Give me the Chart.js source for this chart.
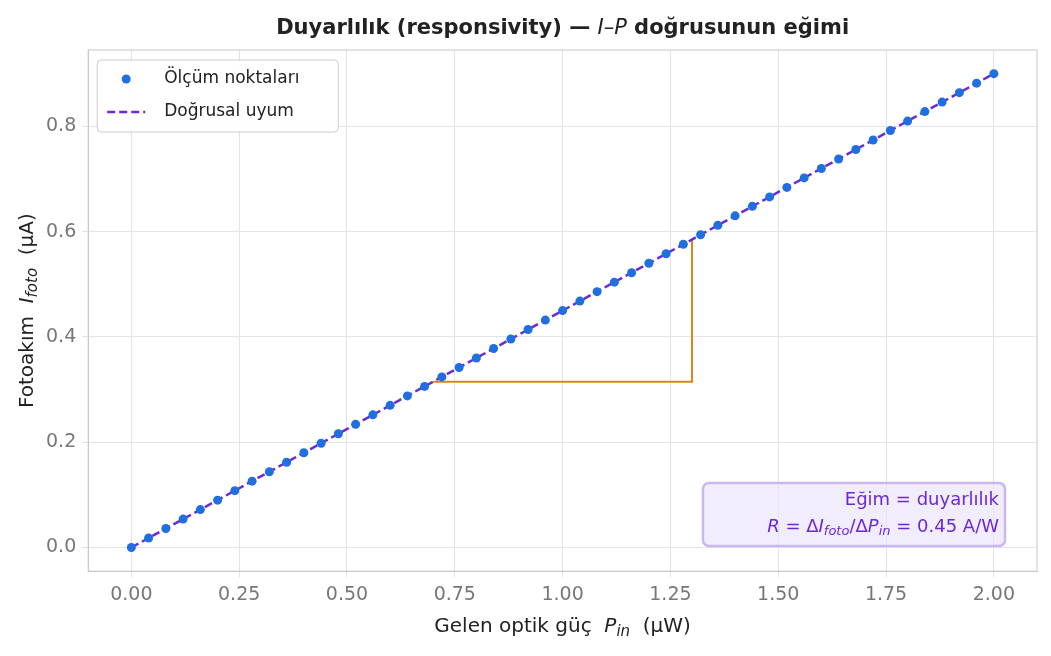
<!DOCTYPE html>
<html><head><meta charset="utf-8">
<script src="https://cdn.jsdelivr.net/npm/chart.js@4"></script>
<style>html,body{margin:0;background:#fff}#w{width:1051px;height:656px}</style>
</head><body><div id="w"><canvas id="c"></canvas></div>
<script>
const powerUW=[0,0.04,0.08,0.12,0.16,0.2,0.24,0.28,0.32,0.36,0.4,0.44,0.48,0.52,0.56,0.6,0.64,0.68,0.72,0.76,0.8,0.84,0.88,0.92,0.96,1,1.04,1.08,1.12,1.16,1.2,1.24,1.28,1.32,1.36,1.4,1.44,1.48,1.52,1.56,1.6,1.64,1.68,1.72,1.76,1.8,1.84,1.88,1.92,1.96,2];
const currentUA=[0,0.018,0.036,0.054,0.072,0.09,0.108,0.126,0.144,0.162,0.18,0.198,0.216,0.234,0.252,0.27,0.288,0.306,0.324,0.342,0.36,0.378,0.396,0.414,0.432,0.45,0.468,0.486,0.504,0.522,0.54,0.558,0.576,0.594,0.612,0.63,0.648,0.666,0.684,0.702,0.72,0.738,0.756,0.774,0.792,0.81,0.828,0.846,0.864,0.882,0.9];
const fitX=[0,2], fitY=[0,0.9];
const triX=[0.7,1.3,1.3], triY=[0.315,0.315,0.585];
const FONT='"DejaVu Sans", sans-serif';
function rich(c,parts,x,y,align){ // parts: [text, style('n','i','b','bi'), size, dy]
 let w=0;for(const p of parts){c.font=fs(p);w+=c.measureText(p[0]).width;}
 let cx=align==='center'?x-w/2:align==='right'?x-w:x;
 c.textAlign='left';
 for(const p of parts){c.font=fs(p);c.fillText(p[0],cx,y+(p[3]||0));cx+=c.measureText(p[0]).width;}
}
function fs(p){const s=p[1];return (s.includes('i')?'italic ':'')+(s.includes('b')?'bold ':'')+p[2]+'px '+FONT;}
const overlay={id:'ov',afterDraw(ch){
 const c=ch.ctx,a=ch.chartArea;
 c.save();c.textBaseline='middle';
 c.strokeStyle='#c8c8d0';c.lineWidth=1;c.strokeRect(a.left,a.top,a.right-a.left,a.bottom-a.top);
 // title
 c.fillStyle='#222';
 rich(c,[['Duyarlılık (responsivity) — ','b',21],['I','i',21],['–','n',21],['P','i',21],[' doğrusunun eğimi','b',21]],(a.left+a.right)/2,29,'center');
 // x title
 rich(c,[['Gelen optik güç  ','n',20],['P','i',20],['in','i',15,5],['  (µW)','n',20]],(a.left+a.right)/2,627,'center');
 // y title
 c.save();c.translate(28,(a.top+a.bottom)/2);c.rotate(-Math.PI/2);
 rich(c,[['Fotoakım  ','n',20],['I','i',20],['foto','i',15,5],['  (µA)','n',20]],0,0,'center');c.restore();
 // legend
 let lx=a.left+9,ly=a.top+10;
 c.fillStyle='rgba(255,255,255,0.9)';c.strokeStyle='#ccc';c.lineWidth=1;
 c.beginPath();c.roundRect(lx,ly,241,72,4);c.fill();c.stroke();
 c.fillStyle='#1f6fe0';c.beginPath();c.arc(lx+29,ly+19,4.5,0,7);c.fill();
 c.strokeStyle='#6a2ad8';c.lineWidth=2.5;c.setLineDash([8,4]);
 c.beginPath();c.moveTo(lx+10,ly+52);c.lineTo(lx+48,ly+52);c.stroke();c.setLineDash([]);
 c.fillStyle='#222';c.font='17px '+FONT;
 c.fillText('Ölçüm noktaları',lx+67,ly+19);c.fillText('Doğrusal uyum',lx+67,ly+52);
 // annotation
 let bx=703,by=483,bw=302,bh=63;
 c.fillStyle='rgba(233,225,250,0.6)';c.strokeStyle='#c9b6f2';
 c.beginPath();c.roundRect(bx,by,bw,bh,6);c.fill();c.stroke();
 c.fillStyle='#6a2ad8';
 rich(c,[['Eğim = duyarlılık','n',18]],bx+bw-6,by+17,'right');
 rich(c,[['R','i',18],[' = Δ','n',18],['I','i',18],['foto','i',13,5],['/Δ','n',18],['P','i',18],['in','i',13,5],[' = 0.45 A/W','n',18]],bx+bw-6,by+44,'right');
 c.restore();}};
new Chart(document.getElementById('c'),{
 data:{datasets:[
  {type:'line',data:triX.map((v,i)=>({x:v,y:triY[i]})),borderColor:'#d4891a',borderWidth:2,pointRadius:0,fill:false,order:3},
  {type:'line',data:fitX.map((v,i)=>({x:v,y:fitY[i]})),borderColor:'#6a2ad8',borderWidth:2.5,borderDash:[8,4],pointRadius:0,order:2},
  {type:'scatter',data:powerUW.map((v,i)=>({x:v,y:currentUA[i]})),backgroundColor:'#1f6fe0',pointRadius:4.5,borderWidth:0,order:1}]},
 options:{animation:false,responsive:true,maintainAspectRatio:false,
  layout:{padding:{left:40,right:14,top:50,bottom:44}},
  plugins:{legend:{display:false},tooltip:{enabled:false},title:{display:false}},
  scales:{
   x:{type:'linear',min:-0.1,max:2.1,afterBuildTicks(s){s.ticks=[0,0.25,0.5,0.75,1,1.25,1.5,1.75,2].map(v=>({value:v}));},
    ticks:{callback:v=>v.toFixed(2),color:'#777',font:{family:FONT,size:19},padding:6},
    grid:{color:'#e3e3ea',tickLength:6},border:{color:'#c8c8d0'}},
   y:{min:-0.045,max:0.945,afterBuildTicks(s){s.ticks=[0,0.2,0.4,0.6,0.8].map(v=>({value:v}));},
    ticks:{callback:v=>v.toFixed(1),color:'#777',font:{family:FONT,size:19},padding:6},
    grid:{color:'#e3e3ea',tickLength:6},border:{color:'#c8c8d0'}}}},
 plugins:[overlay]});
</script></body></html>
